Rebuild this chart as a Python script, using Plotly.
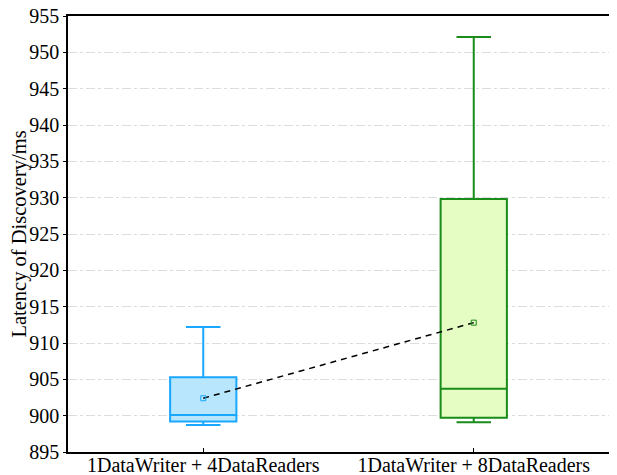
import plotly.graph_objects as go

categories = ["1DataWriter + 4DataReaders", "1DataWriter + 8DataReaders"]
lower_whisker = [898.7, 899.1]
q1_values = [899.2, 899.7]
median_values = [900.1, 903.7]
q3_values = [905.3, 929.8]
upper_whisker = [912.2, 952.1]
mean_values = [902.4, 912.8]

line_colors = ["#1AA7FF", "#1A8C1A"]
fill_colors = ["#B8E6FD", "#E5FCC2"]
y_ticks = [895, 900, 905, 910, 915, 920, 925, 930, 935, 940, 945, 950, 955]

fig = go.Figure()
for i, cat in enumerate(categories):
    fig.add_trace(go.Box(
        x=[cat], q1=[q1_values[i]], median=[median_values[i]], q3=[q3_values[i]],
        lowerfence=[lower_whisker[i]], upperfence=[upper_whisker[i]],
        line=dict(color=line_colors[i], width=2), fillcolor=fill_colors[i],
        width=0.245, whiskerwidth=0.52, showlegend=False, boxpoints=False,
    ))

fig.add_trace(go.Scatter(
    x=categories, y=mean_values, mode="lines",
    line=dict(color="black", width=1.5, dash="6px,5px"), showlegend=False,
))
for i, cat in enumerate(categories):
    fig.add_trace(go.Scatter(
        x=[cat], y=[mean_values[i]], mode="markers",
        marker=dict(symbol="square-open", size=5, color=line_colors[i], line=dict(width=1)),
        showlegend=False,
    ))

font_family = "Liberation Serif"
# the page body adds an 8px offset, so the figure is sized to fit the window
fig.update_layout(
    width=609, height=467,
    margin=dict(l=60, r=8, t=8, b=23),
    paper_bgcolor="white", plot_bgcolor="white",
    boxmode="overlay",
    font=dict(family=font_family, size=20, color="black"),
)
fig.update_xaxes(
    type="category", range=[-0.5, 1.5], automargin=False,
    ticklabelstandoff=-6,
    showline=True, linecolor="black", linewidth=1.5, mirror=True,
    ticks="inside", ticklen=4, tickcolor="black", showgrid=False,
    tickfont=dict(family=font_family, size=20, color="black"),
)
fig.update_yaxes(
    range=[895, 955], tickvals=y_ticks, automargin=False,
    ticklabeloverflow="allow",
    showline=True, linecolor="black", linewidth=1.5, mirror=True,
    ticks="outside", ticklen=3, tickcolor="black",
    showgrid=True, gridcolor="#DDDDDD", gridwidth=1, griddash="dashdot",
    zeroline=False,
    tickfont=dict(family=font_family, size=20, color="black"),
    title=dict(text="Latency of Discovery/ms", font=dict(family=font_family, size=20.5), standoff=2),
)

fig.write_html("out.html")
